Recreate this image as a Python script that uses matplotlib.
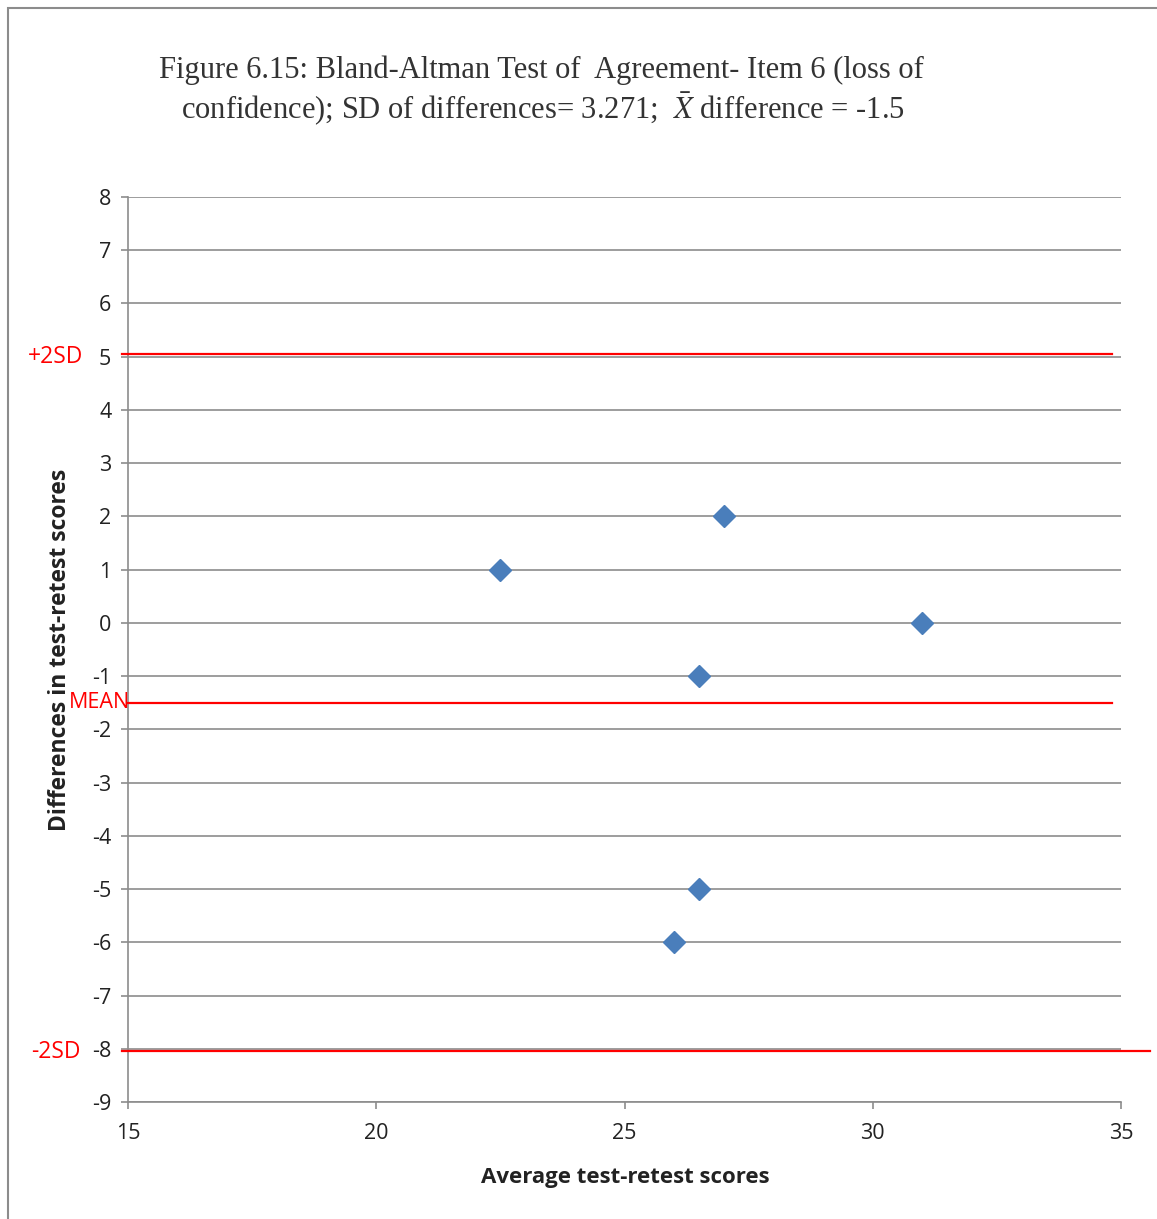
import matplotlib
matplotlib.use("Agg")
import matplotlib.pyplot as plt
from matplotlib.patches import Rectangle

avg_scores = [22.5, 27, 31, 26.5, 26.5, 26]
diffs = [1, 2, 0, -1, -5, -6]
mean_diff = -1.5
sd_diff = 3.271
title_lines = ["Figure 6.15: Bland-Altman Test of  Agreement- Item 6 (loss of",
               r"confidence); SD of differences= 3.271;  $\bar{X}$ difference = -1.5"]
x_ticks = [15, 20, 25, 30, 35]
y_ticks = list(range(-9, 9))

plt.rcParams['mathtext.fontset'] = 'stix'
plt.rcParams['axes.unicode_minus'] = False
W, H = 1157, 1219
fig = plt.figure(figsize=(W / 100, H / 100), dpi=100)
fig.patch.set_facecolor('white')

# outer frame
fig.patches.append(Rectangle((8 / W, -0.1), 1.2, 1 - 8 / H + 0.1, transform=fig.transFigure,
                             fill=False, edgecolor='#8c8c8c', linewidth=1.5))

ax = fig.add_axes([128 / W, 1 - 1102 / H, (1121 - 128) / W, (1102 - 197) / H])
ax.set_xlim(15, 35)
ax.set_ylim(-9, 8)
ax.set_xticks(x_ticks)
ax.set_yticks(y_ticks)
ax.grid(axis='y', color='#8c8c8c', linewidth=1.2)
ax.set_axisbelow(True)
for s in ['top', 'right']:
    ax.spines[s].set_visible(False)
for s in ['left', 'bottom']:
    ax.spines[s].set_color('#8c8c8c')
    ax.spines[s].set_linewidth(1.2)
ax.tick_params(axis='both', colors='#8c8c8c', length=5, width=1.2, labelcolor='#222222',
               labelsize=15.5)
ax.tick_params(axis='y', pad=7)
ax.tick_params(axis='x', pad=10)
for lbl in ax.get_xticklabels() + ax.get_yticklabels():
    lbl.set_family('Open Sans')

ax.plot(avg_scores, diffs, linestyle='none', marker='D', markersize=11,
        color='#4a7ebb', zorder=3)

upper = mean_diff + 2 * sd_diff
lower = mean_diff - 2 * sd_diff
ax.plot([14.88, 34.82], [upper, upper], color='red', linewidth=1.6, clip_on=False, zorder=4)
ax.plot([15.0, 34.82], [mean_diff, mean_diff], color='red', linewidth=1.6, clip_on=False, zorder=4)
ax.plot([14.88, 35.58], [lower, lower], color='red', linewidth=1.6, clip_on=False, zorder=4)

ax.text(83 / W, 1 - 357 / H, "+2SD", transform=fig.transFigure, color='red', fontsize=16.5,
        ha='right', va='center', family='Open Sans')
ax.text(130 / W, 1 - 703 / H, "MEAN", transform=fig.transFigure, color='red', fontsize=15.5,
        ha='right', va='center', family='Open Sans')
ax.text(81 / W, 1 - 1052 / H, "-2SD", transform=fig.transFigure, color='red', fontsize=16.5,
        ha='right', va='center', family='Open Sans')

fig.text(625 / W, 1 - 1177 / H, "Average test-retest scores", fontsize=16, fontweight='bold',
         family='Open Sans', color='#222222', ha='center', va='center')
fig.text(60 / W, 1 - 650 / H, "Differences in test-retest scores", rotation=90, fontsize=16.5,
         fontweight='bold', family='Open Sans', color='#222222', ha='center', va='center')

fig.text(541 / W, 1 - 70 / H, title_lines[0], fontsize=22, family='Liberation Serif',
         ha='center', va='center', color='#333333')
fig.text(543 / W, 1 - 109 / H, title_lines[1], fontsize=22, family='Liberation Serif',
         ha='center', va='center', color='#333333')

fig.savefig("out.png", dpi=100)
